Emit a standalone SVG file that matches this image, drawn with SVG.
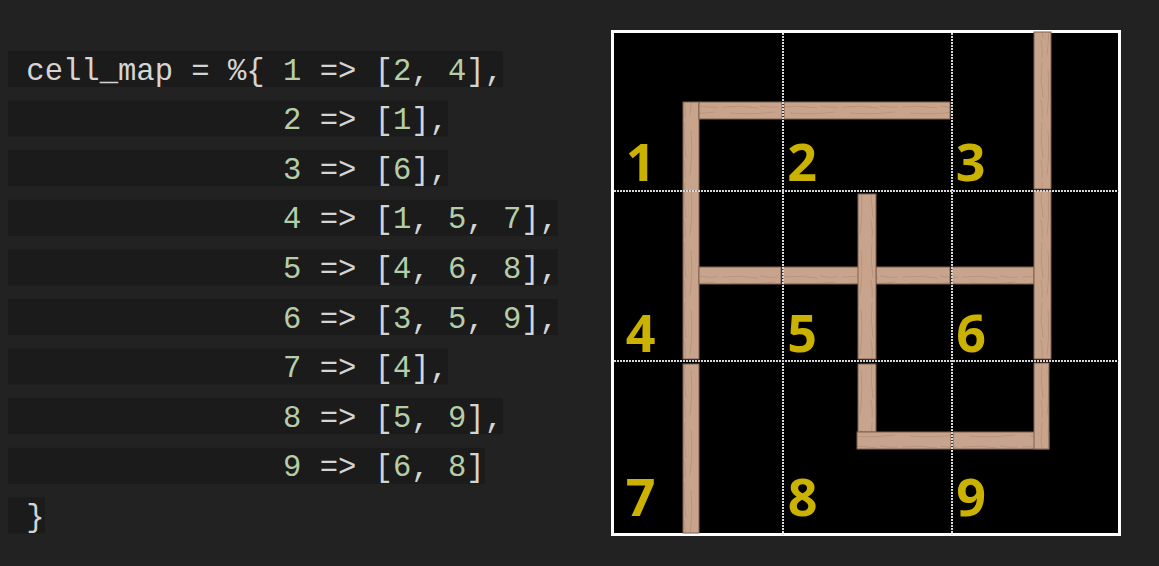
<svg xmlns="http://www.w3.org/2000/svg" width="1159" height="566" viewBox="0 0 1159 566">
  <style>
    .code { font-family: "Liberation Mono", "Courier New", monospace; font-size: 30.55px; fill: #d4d4d4; white-space: pre; }
    .num { fill: #b5cea8; }
    .hl { fill: #1b1b1b; }
    .grid { stroke: #d8d8d8; stroke-width: 2; stroke-dasharray: 2 1; fill: none; }
    .cell { font-family: "Open Sans", "Liberation Sans", sans-serif; font-weight: 700; font-size: 52px; fill: #cbb200; text-anchor: middle; }
    .ph { fill: url(#grainH); stroke: #7d5e4e; stroke-width: 1; }
    .pv { fill: url(#grainV); stroke: #7d5e4e; stroke-width: 1; }
  </style>
  <defs>
    <pattern id="grainH" patternUnits="userSpaceOnUse" width="60" height="17">
      <rect width="60" height="17" fill="#c9a48c"/>
      <path d="M2 5 Q20 3 38 6 M10 11 Q30 13 55 10 M40 4 Q50 6 58 5" stroke="#b38f78" stroke-width="0.8" fill="none"/>
    </pattern>
    <pattern id="grainV" patternUnits="userSpaceOnUse" width="17" height="60">
      <rect width="17" height="60" fill="#c9a48c"/>
      <path d="M5 2 Q3 20 6 38 M11 10 Q13 30 10 55 M4 40 Q6 50 5 58" stroke="#b38f78" stroke-width="0.8" fill="none"/>
    </pattern>
  </defs>

  <rect width="1159" height="566" fill="#222222"/>

  <g id="code">
    <g id="line1"><rect class="hl" x="8" y="51" width="495" height="36"/>
      <text class="code" x="8" y="79.5"> cell_map = %{ <tspan class="num">1</tspan> =&gt; [<tspan class="num">2</tspan>, <tspan class="num">4</tspan>],</text></g>
    <g id="line2"><rect class="hl" x="8" y="100.6" width="440" height="36"/>
      <text class="code" x="8" y="129.1">               <tspan class="num">2</tspan> =&gt; [<tspan class="num">1</tspan>],</text></g>
    <g id="line3"><rect class="hl" x="8" y="150.2" width="440" height="36"/>
      <text class="code" x="8" y="178.7">               <tspan class="num">3</tspan> =&gt; [<tspan class="num">6</tspan>],</text></g>
    <g id="line4"><rect class="hl" x="8" y="199.8" width="550" height="36"/>
      <text class="code" x="8" y="228.3">               <tspan class="num">4</tspan> =&gt; [<tspan class="num">1</tspan>, <tspan class="num">5</tspan>, <tspan class="num">7</tspan>],</text></g>
    <g id="line5"><rect class="hl" x="8" y="249.4" width="550" height="36"/>
      <text class="code" x="8" y="277.9">               <tspan class="num">5</tspan> =&gt; [<tspan class="num">4</tspan>, <tspan class="num">6</tspan>, <tspan class="num">8</tspan>],</text></g>
    <g id="line6"><rect class="hl" x="8" y="299" width="550" height="36"/>
      <text class="code" x="8" y="327.5">               <tspan class="num">6</tspan> =&gt; [<tspan class="num">3</tspan>, <tspan class="num">5</tspan>, <tspan class="num">9</tspan>],</text></g>
    <g id="line7"><rect class="hl" x="8" y="348.6" width="440" height="36"/>
      <text class="code" x="8" y="377.1">               <tspan class="num">7</tspan> =&gt; [<tspan class="num">4</tspan>],</text></g>
    <g id="line8"><rect class="hl" x="8" y="398.2" width="495" height="36"/>
      <text class="code" x="8" y="426.7">               <tspan class="num">8</tspan> =&gt; [<tspan class="num">5</tspan>, <tspan class="num">9</tspan>],</text></g>
    <g id="line9"><rect class="hl" x="8" y="447.8" width="477" height="36"/>
      <text class="code" x="8" y="476.3">               <tspan class="num">9</tspan> =&gt; [<tspan class="num">6</tspan>, <tspan class="num">8</tspan>]</text></g>
    <g id="line10"><rect class="hl" x="8" y="497.4" width="37" height="36"/>
      <text class="code" x="8" y="525.9"> }</text></g>
  </g>

  <g id="maze">
    <rect id="frame" x="612.5" y="31.5" width="507" height="503" fill="#000000" stroke="#ffffff" stroke-width="3"/>
    <g id="walls">
      <rect class="pv" x="683" y="102" width="16" height="89"/>
      <rect class="pv" x="683" y="191" width="16" height="168"/>
      <rect class="pv" x="683" y="364" width="16" height="169"/>
      <rect class="ph" x="699" y="102" width="83" height="17"/>
      <rect class="ph" x="784" y="102" width="166" height="17"/>
      <rect class="ph" x="699" y="267" width="82" height="17"/>
      <rect class="ph" x="783" y="267" width="76" height="17"/>
      <rect class="ph" x="876" y="267" width="74" height="17"/>
      <rect class="ph" x="952" y="267" width="82" height="17"/>
      <rect class="pv" x="858" y="194" width="18" height="165"/>
      <rect class="pv" x="858" y="364" width="18" height="68"/>
      <rect class="ph" x="857" y="432" width="94" height="17"/>
      <rect class="ph" x="953" y="432" width="96" height="17"/>
      <rect class="pv" x="1034" y="32" width="17" height="157"/>
      <rect class="pv" x="1034" y="191" width="17" height="168"/>
      <rect class="pv" x="1034" y="363" width="15" height="86"/>
    </g>
    <g id="gridlines">
      <line class="grid" x1="783" y1="33" x2="783" y2="535"/>
      <line class="grid" x1="952" y1="33" x2="952" y2="535"/>
      <line class="grid" x1="614" y1="191" x2="1119" y2="191"/>
      <line class="grid" x1="614" y1="361" x2="1119" y2="361"/>
    </g>
    <g id="cell1"><text class="cell" x="640.5" y="181">1</text></g>
    <g id="cell2"><text class="cell" x="802" y="181">2</text></g>
    <g id="cell3"><text class="cell" x="970.5" y="181">3</text></g>
    <g id="cell4"><text class="cell" x="640.5" y="351.5">4</text></g>
    <g id="cell5"><text class="cell" x="802" y="351.5">5</text></g>
    <g id="cell6"><text class="cell" x="971" y="351.5">6</text></g>
    <g id="cell7"><text class="cell" x="640.5" y="516">7</text></g>
    <g id="cell8"><text class="cell" x="802.5" y="516">8</text></g>
    <g id="cell9"><text class="cell" x="971" y="516">9</text></g>
  </g>
</svg>
